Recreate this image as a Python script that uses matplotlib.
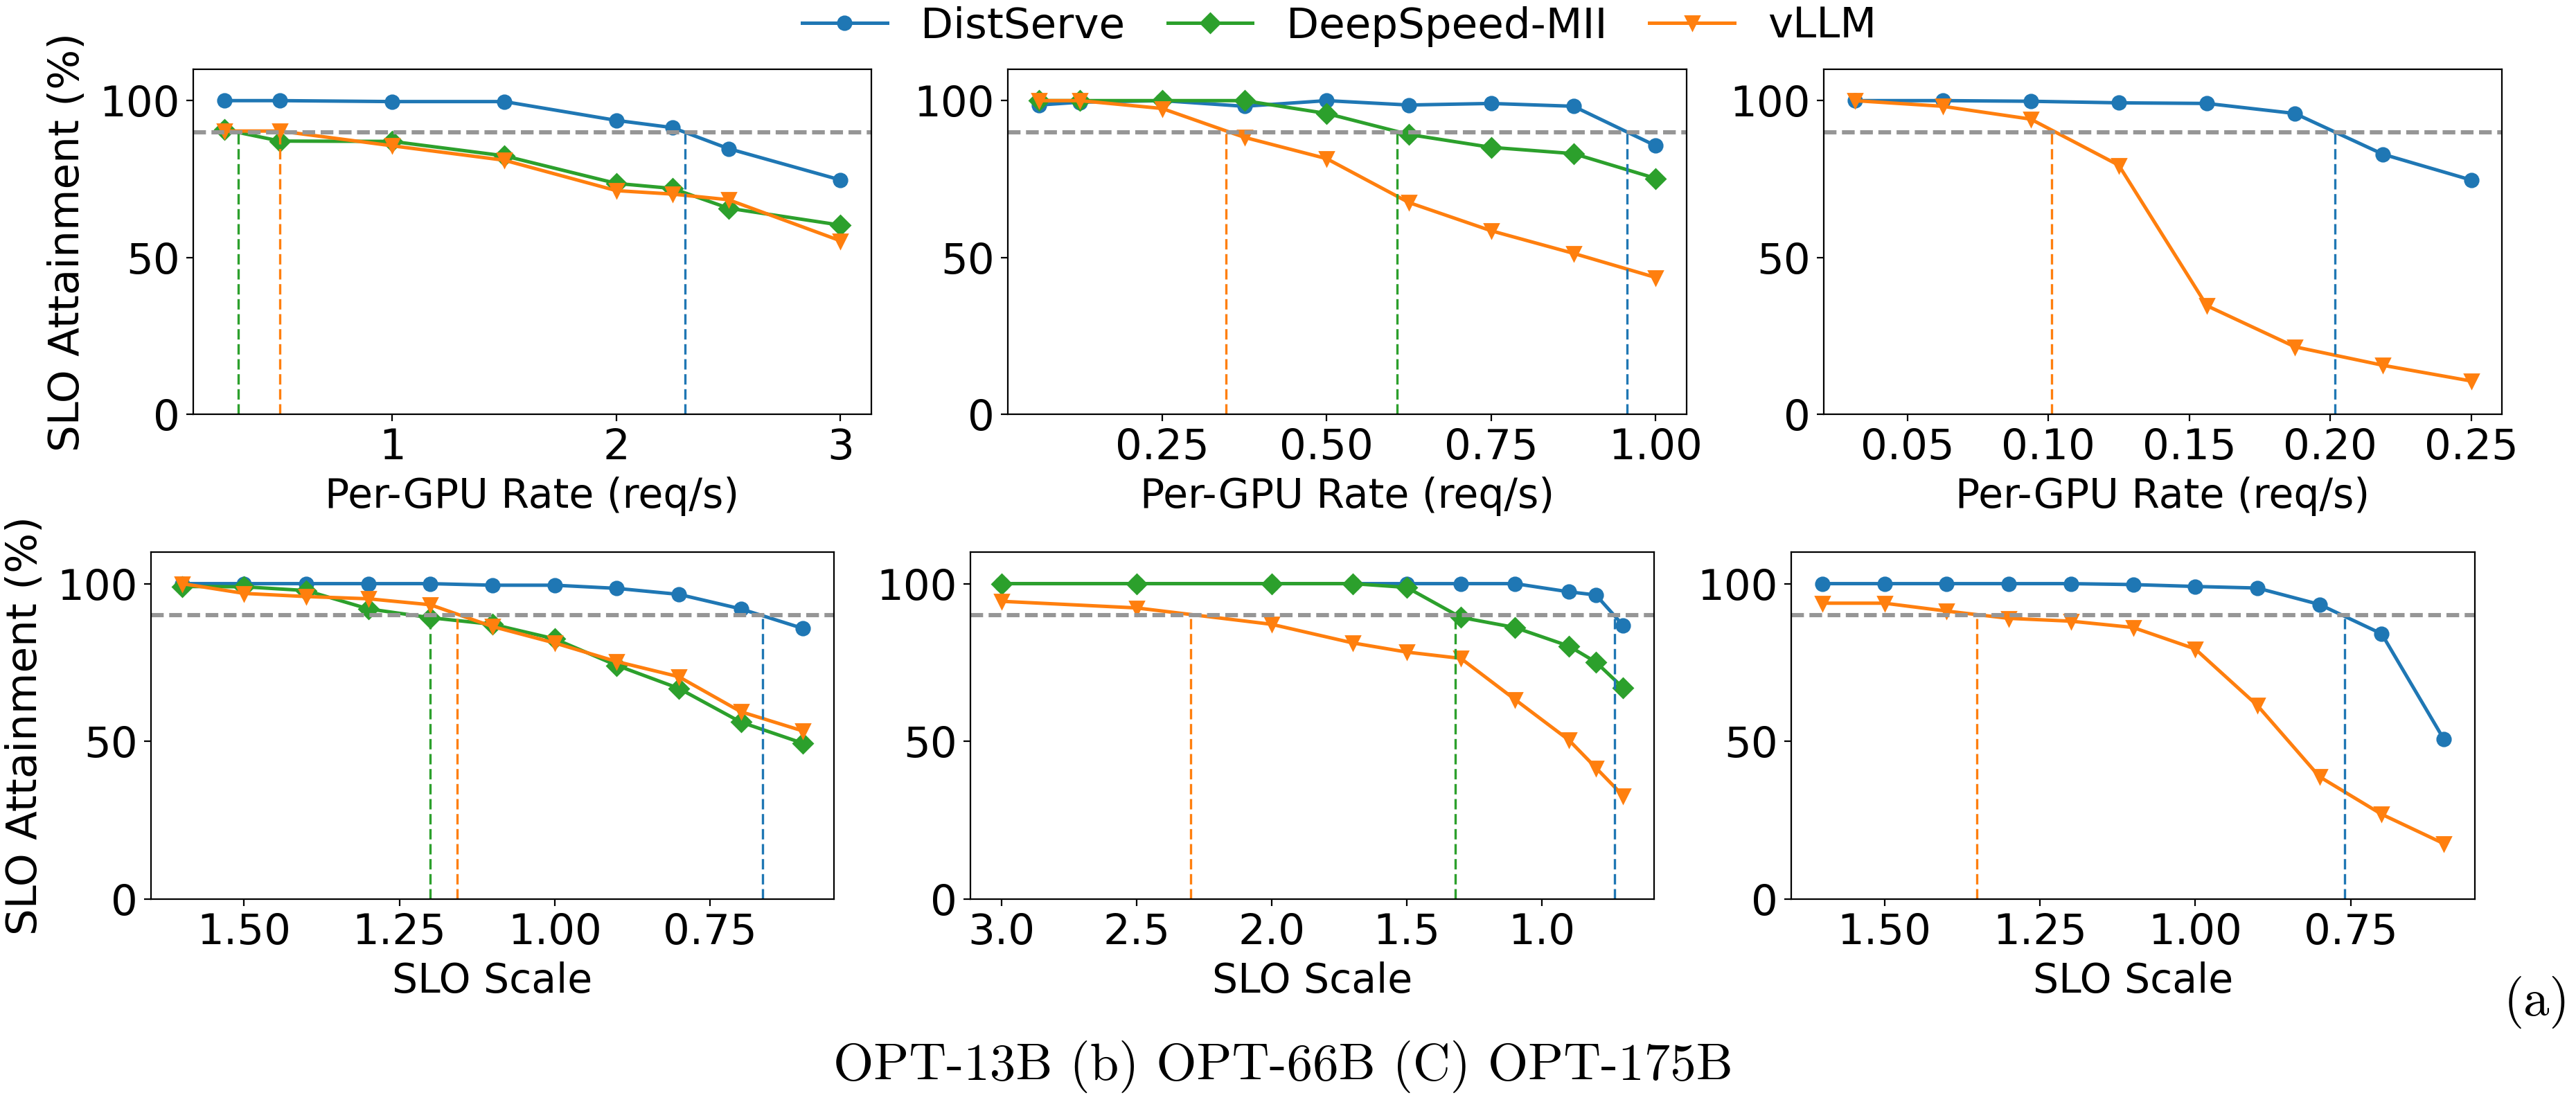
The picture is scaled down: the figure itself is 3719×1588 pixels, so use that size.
import matplotlib
matplotlib.use("Agg")
import matplotlib.pyplot as plt

# ---------------- data ----------------
series_names = ["DistServe", "DeepSpeed-MII", "vLLM"]
series_colors = ["#1f77b4", "#2ca02c", "#ff7f0e"]
series_markers = ["o", "D", "v"]

y_ticks = [0, 50, 100]
slo_target = 90

# Top row: per-GPU rate
p1_x = [0.25, 0.5, 1, 1.5, 2, 2.25, 2.5, 3]
p1_dist = [100, 100, 99.7, 99.7, 93.7, 91.4, 84.7, 74.7]
p1_ds = [90.8, 87.1, 87.0, 82.4, 73.6, 72.0, 65.7, 60.3]
p1_vllm = [90.3, 90.3, 85.6, 81.0, 71.3, 70.2, 68.4, 55.3]
p1_cross = [2.305, 0.313, 0.5]
p1_xticks = [1, 2, 3]

p2_x = [0.0625, 0.125, 0.25, 0.375, 0.5, 0.625, 0.75, 0.875, 1.0]
p2_dist = [98.6, 99.5, 100, 98.2, 100, 98.6, 99.1, 98.2, 85.6]
p2_ds = [100, 100, 100, 100, 95.9, 89.2, 85.1, 83.1, 75.2]
p2_vllm = [100, 100, 97.5, 88.3, 81.5, 67.5, 58.5, 51.3, 43.6]
p2_cross = [0.956, 0.607, 0.347]
p2_xticks = [0.25, 0.50, 0.75, 1.00]

p3_x = [0.03125, 0.0625, 0.09375, 0.125, 0.15625, 0.1875, 0.21875, 0.25]
p3_dist = [100, 100, 99.8, 99.3, 99.1, 95.9, 82.9, 74.7]
p3_vllm = [100, 98.2, 94.1, 79.4, 34.6, 21.5, 15.6, 10.6]
p3_cross = [0.2016, None, 0.1012]
p3_xticks = [0.05, 0.10, 0.15, 0.20, 0.25]

# Bottom row: SLO scale
p4_x = [1.6, 1.5, 1.4, 1.3, 1.2, 1.1, 1.0, 0.9, 0.8, 0.7, 0.6]
p4_dist = [100, 100, 100, 100, 100, 99.5, 99.5, 98.5, 96.6, 92.0, 85.8]
p4_ds = [99.1, 99.0, 97.8, 92.0, 89.2, 87.1, 82.5, 74.1, 66.8, 56.1, 49.4]
p4_vllm = [100, 96.9, 95.9, 95.2, 93.3, 86.4, 81.2, 75.3, 70.5, 59.4, 53.3]
p4_cross = [0.665, 1.2, 1.157]
p4_xticks = [1.50, 1.25, 1.00, 0.75]

p5_x = [3.0, 2.5, 2.0, 1.7, 1.5, 1.3, 1.1, 0.9, 0.8, 0.7]
p5_dist = [100, 100, 100, 100, 100, 100, 100, 97.4, 96.4, 86.8]
p5_ds = [100, 100, 100, 100, 98.8, 89.3, 86.1, 80.2, 75.1, 67.0]
p5_vllm = [94.4, 92.3, 87.1, 81.2, 78.3, 76.3, 63.3, 50.4, 41.6, 32.8]
p5_cross = [0.732, 1.32, 2.3]
p5_xticks = [3.0, 2.5, 2.0, 1.5, 1.0]

p6_x = [1.6, 1.5, 1.4, 1.3, 1.2, 1.1, 1.0, 0.9, 0.8, 0.7, 0.6]
p6_dist = [100, 100, 100, 100, 100, 99.7, 99.1, 98.6, 93.4, 84.1, 50.7]
p6_vllm = [93.8, 93.8, 91.3, 89.0, 88.1, 86.1, 79.3, 61.4, 38.8, 26.9, 17.6]
p6_cross = [0.76, None, 1.351]
p6_xticks = [1.50, 1.25, 1.00, 0.75]

xlabel_top = "Per-GPU Rate (req/s)"
xlabel_bottom = "SLO Scale"
ylabel = "SLO Attainment (%)"
caption = "OPT-13B (b) OPT-66B (C) OPT-175B"
caption_a = "(a)"

# ---------------- figure ----------------
W, H = 3719, 1588
DPI = 200
fig = plt.figure(figsize=(W / DPI, H / DPI), dpi=DPI)

TICK_FS = 22
LABEL_FS = 21
YLABEL_FS = 22


def px_axes(left, top, right, bottom):
    return fig.add_axes([left / W, 1 - bottom / H, (right - left) / W, (bottom - top) / H])


panels = [
    dict(box=(279, 100, 1258, 598), x=p1_x, ys=[p1_dist, p1_ds, p1_vllm], cross=p1_cross,
         xticks=p1_xticks, fmt="{:g}", xlabel=xlabel_top, ylabel=True, invert=False),
    dict(box=(1455, 100, 2435, 598), x=p2_x, ys=[p2_dist, p2_ds, p2_vllm], cross=p2_cross,
         xticks=p2_xticks, fmt="{:.2f}", xlabel=xlabel_top, ylabel=False, invert=False),
    dict(box=(2633, 100, 3612, 598), x=p3_x, ys=[p3_dist, None, p3_vllm], cross=p3_cross,
         xticks=p3_xticks, fmt="{:.2f}", xlabel=xlabel_top, ylabel=False, invert=False),
    dict(box=(218, 797, 1204, 1298), x=p4_x, ys=[p4_dist, p4_ds, p4_vllm], cross=p4_cross,
         xticks=p4_xticks, fmt="{:.2f}", xlabel=xlabel_bottom, ylabel=True, invert=True),
    dict(box=(1401, 797, 2388, 1298), x=p5_x, ys=[p5_dist, p5_ds, p5_vllm], cross=p5_cross,
         xticks=p5_xticks, fmt="{:.1f}", xlabel=xlabel_bottom, ylabel=False, invert=True),
    dict(box=(2586, 797, 3573, 1298), x=p6_x, ys=[p6_dist, None, p6_vllm], cross=p6_cross,
         xticks=p6_xticks, fmt="{:.2f}", xlabel=xlabel_bottom, ylabel=False, invert=True),
]

legend_handles = None
for i, p in enumerate(panels):
    ax = px_axes(*p["box"])
    handles = []
    for name, col, mk, y in zip(series_names, series_colors, series_markers, p["ys"]):
        if y is None:
            continue
        (ln,) = ax.plot(p["x"], y, color=col, marker=mk, markersize=7, linewidth=1.8,
                        label=name)
        handles.append(ln)
    if i == 0:
        legend_handles = handles
    ax.axhline(slo_target, color="#969696", linewidth=2.2, linestyle=(0, (3, 1.3)))
    for col, xc in zip(series_colors, p["cross"]):
        if xc is None:
            continue
        ax.plot([xc, xc], [0, slo_target], color=col, linewidth=1.2,
                linestyle=(0, (4.5, 2.0)))
    ax.set_ylim(0, 110)
    ax.set_yticks(y_ticks)
    ax.set_yticklabels([str(v) for v in y_ticks])
    ax.set_xticks(p["xticks"])
    ax.set_xticklabels([p["fmt"].format(v) for v in p["xticks"]])
    ax.margins(x=0.05)
    if p["invert"]:
        ax.invert_xaxis()
    ax.tick_params(labelsize=TICK_FS)
    ax.set_xlabel(p["xlabel"], fontsize=LABEL_FS)
    if p["ylabel"]:
        ax.set_ylabel(ylabel, fontsize=YLABEL_FS, labelpad=6)

fig.legend(handles=legend_handles, labels=series_names, loc="center",
           bbox_to_anchor=(1934 / W, 1 - 38 / H), ncol=3, frameon=False,
           fontsize=TICK_FS, columnspacing=1.0, handlelength=2.0, handletextpad=0.8,
           borderpad=0.0)

fig.text(1852 / W, 1 - 1559 / H, caption, ha="center", va="baseline",
         fontsize=27, family=["cmr10", "DejaVu Serif"])
fig.text(3662 / W, 1 - 1447 / H, caption_a, ha="center", va="center",
         fontsize=27, family=["cmr10", "DejaVu Serif"])

fig.savefig("out.png", dpi=DPI)
